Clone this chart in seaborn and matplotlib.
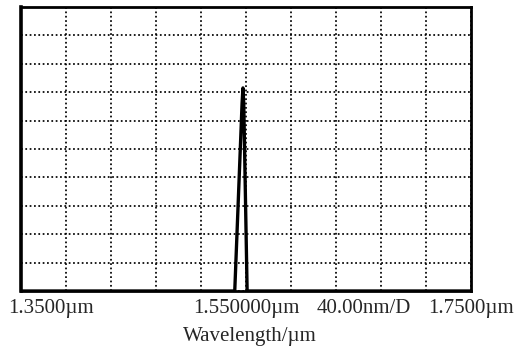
import numpy as np
import pandas as pd
import matplotlib
matplotlib.use("Agg")
import matplotlib.pyplot as plt
import seaborn as sns

# Data (wavelength in µm, power in screen divisions)
wavelength = [1.3500, 1.5400, 1.5465, 1.5473, 1.5480, 1.5510, 1.7500]
power = [0.0, 0.0, 6.6, 7.15, 6.6, 0.0, 0.0]

x_min, x_max = 1.35, 1.75
x_step = 0.04
y_divs = 10

label_texts = ["1.3500µm", "1.550000µm", "40.00nm/D", "1.7500µm"]
label_pos = [1.377, 1.550, 1.6545, 1.750]
xlabel = "Wavelength/µm"

sns.set_style("white")
plt.rcParams['font.family'] = ['Liberation Serif', 'DejaVu Serif']

fig = plt.figure(figsize=(5.28, 3.5), dpi=100)
ax = fig.add_axes([21/528, 59/350, 450/528, 284/350])

df = pd.DataFrame({"wavelength": wavelength, "power": power})
sns.lineplot(data=df, x="wavelength", y="power", ax=ax, color="black",
             linewidth=2.4, estimator=None, sort=False)

ax.set_xlim(x_min, x_max)
ax.set_ylim(0, y_divs)
ax.set_xticks(np.linspace(x_min, x_max, 11))
ax.set_yticks(np.arange(0, y_divs + 1))
ax.tick_params(length=0, labelbottom=False, labelleft=False)
ax.grid(True, color="black", linestyle=(0, (1, 1.5)), linewidth=1.25)
for s in ax.spines.values():
    s.set_color("black")
    s.set_linewidth(2.0)
    s.set_visible(True)
ax.spines["left"].set_linewidth(2.6)
ax.set_xlabel("")
ax.set_ylabel("")

for t, p in zip(label_texts, label_pos):
    ax.text(p, -0.028, t, transform=ax.get_xaxis_transform(), ha="center",
            va="top", fontsize=15)
fig.text(250/528, 1 - 336/350, xlabel, ha="center", va="center", fontsize=15)

fig.savefig("out.png", dpi=100, facecolor="white")
